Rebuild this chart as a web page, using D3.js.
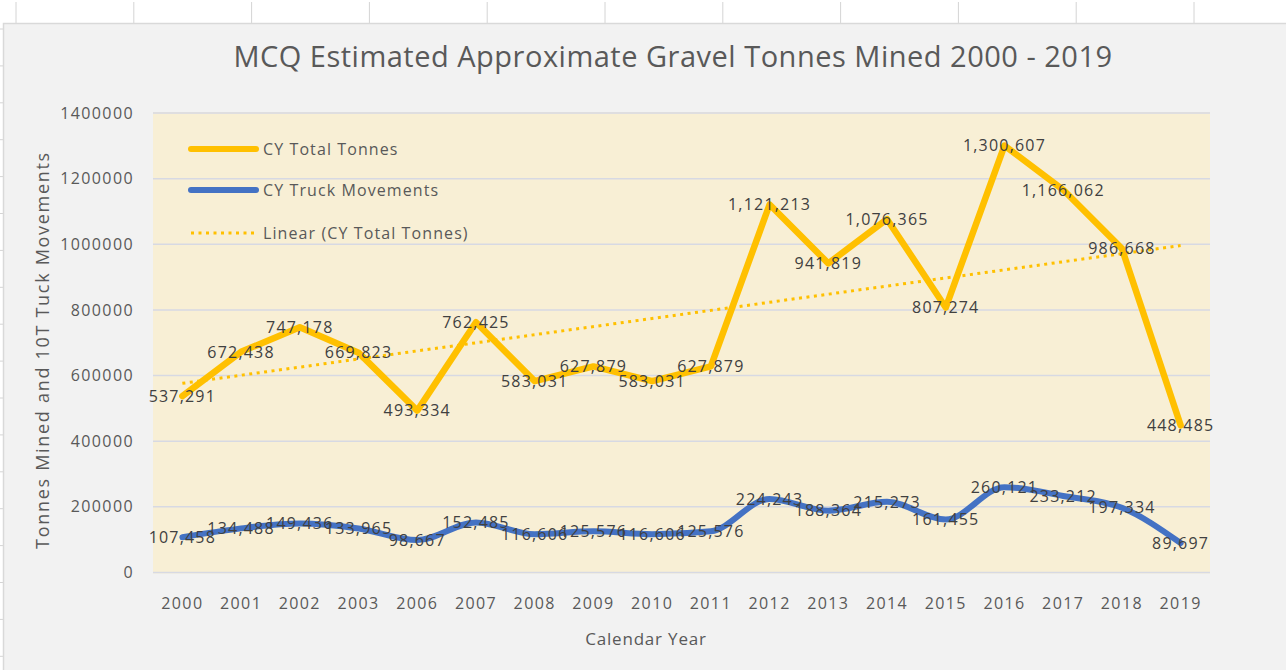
<!DOCTYPE html>
<meta charset="utf-8">
<html>
<head>
<title>MCQ Estimated Approximate Gravel Tonnes Mined 2000 - 2019</title>
<script src="https://d3js.org/d3.v7.min.js"></script>
<style>
body {
  margin: 0;
  background: #fff;
  font-family: "Open Sans", sans-serif;
}
.tick text {
  font-family: "Open Sans", sans-serif;
  font-size: 16px;
  letter-spacing: 1.4px;
  fill: #595959;
}
.label {
  font-size: 16px;
  letter-spacing: 1.2px;
  fill: #404040;
}
.legend text {
  font-size: 16px;
  letter-spacing: 1.1px;
  fill: #595959;
}
</style>
</head>
<body>
<div id="chart"></div>

<script>
// data
var years = ["2000", "2001", "2002", "2003", "2006", "2007", "2008", "2009", "2010",
             "2011", "2012", "2013", "2014", "2015", "2016", "2017", "2018", "2019"];

var totalTonnes = [537291, 672438, 747178, 669823, 493334, 762425, 583031, 627879, 583031,
                   627879, 1121213, 941819, 1076365, 807274, 1300607, 1166062, 986668, 448485];

var truckMovements = [107458, 134488, 149436, 133965, 98667, 152485, 116606, 125576, 116606,
                      125576, 224243, 188364, 215273, 161455, 260121, 233212, 197334, 89697];

var yTicks = [0, 200000, 400000, 600000, 800000, 1000000, 1200000, 1400000];

var seriesNames = ["CY Total Tonnes", "CY Truck Movements", "Linear (CY Total Tonnes)"];

// layout
var width = 1286, height = 670;
var plot = { left: 153, right: 1210, top: 113, bottom: 572.5 };
var gold = "#ffc000", blue = "#4472c4";

var svg = d3.select("#chart")
    .append("svg")
    .attr("width", width)
    .attr("height", height);

// spreadsheet grid peeking out behind the chart object
svg.selectAll(".col")
    .data(d3.range(16, width, 117.8))
    .enter().append("line")
    .attr("x1", function (d) { return d; })
    .attr("x2", function (d) { return d; })
    .attr("y1", 2).attr("y2", 24)
    .attr("stroke", "#d4d4d4");

svg.selectAll(".row")
    .data(d3.range(29, height, 36.9))
    .enter().append("line")
    .attr("x1", 0).attr("x2", 4)
    .attr("y1", function (d) { return d; })
    .attr("y2", function (d) { return d; })
    .attr("stroke", "#d4d4d4");

// chart area
svg.append("rect")
    .attr("x", 3.5).attr("y", 23.5)
    .attr("width", width).attr("height", height)
    .attr("fill", "#f2f2f2")
    .attr("stroke", "#d9d9d9")
    .attr("stroke-width", 1.5);

var x = d3.scaleBand().domain(years).range([plot.left, plot.right]);
var y = d3.scaleLinear().domain([0, 1400000]).range([plot.bottom, plot.top]);
var cx = function (d) { return x(d) + x.bandwidth() / 2; };

// plot area
svg.append("rect")
    .attr("x", plot.left)
    .attr("y", y(1400000) - 1)
    .attr("width", plot.right - plot.left)
    .attr("height", y(0) - y(1400000) + 2)
    .attr("fill", "#f8efd5");

svg.selectAll(".grid")
    .data(yTicks)
    .enter().append("line")
    .attr("x1", plot.left).attr("x2", plot.right)
    .attr("y1", function (d) { return y(d); })
    .attr("y2", function (d) { return y(d); })
    .attr("stroke", "#d7d9e3")
    .attr("stroke-width", 1.5);

// axes
var yAxis = svg.append("g")
    .attr("transform", "translate(" + plot.left + ",0)")
    .call(d3.axisLeft(y).tickValues(yTicks).tickFormat(d3.format("d")).tickSize(0).tickPadding(19));
yAxis.select(".domain").remove();

var xAxis = svg.append("g")
    .attr("transform", "translate(0," + plot.bottom + ")")
    .call(d3.axisBottom(x).tickSize(0).tickPadding(25));
xAxis.select(".domain").remove();

// titles
svg.append("text")
    .attr("x", 673).attr("y", 67)
    .attr("text-anchor", "middle")
    .style("font-size", "29px")
    .style("letter-spacing", "0.5px")
    .style("fill", "#595959")
    .text("MCQ Estimated Approximate Gravel Tonnes Mined 2000 - 2019");

svg.append("text")
    .attr("x", 646).attr("y", 645)
    .attr("text-anchor", "middle")
    .style("font-size", "17px")
    .style("letter-spacing", "0.8px")
    .style("fill", "#595959")
    .text("Calendar Year");

svg.append("text")
    .attr("transform", "translate(49,350) rotate(-90)")
    .attr("text-anchor", "middle")
    .style("font-size", "18px")
    .style("letter-spacing", "1.7px")
    .style("fill", "#595959")
    .text("Tonnes Mined and 10T Tuck Movements");

// linear trend of total tonnes (least squares, like Excel's trendline)
var xs = d3.range(1, years.length + 1);
var mx = d3.mean(xs), my = d3.mean(totalTonnes);
var slope = d3.sum(xs, function (v, i) { return (v - mx) * (totalTonnes[i] - my); }) /
            d3.sum(xs, function (v) { return (v - mx) * (v - mx); });
var intercept = my - slope * mx;

svg.append("line")
    .attr("x1", cx(years[0]))
    .attr("y1", y(intercept + slope * 1))
    .attr("x2", cx(years[years.length - 1]))
    .attr("y2", y(intercept + slope * years.length))
    .attr("stroke", gold)
    .attr("stroke-width", 3)
    .attr("stroke-dasharray", "3 4.5");

// series lines
var tonneLine = d3.line()
    .x(function (d, i) { return cx(years[i]); })
    .y(function (d) { return y(d); });

var truckLine = d3.line()
    .x(function (d, i) { return cx(years[i]); })
    .y(function (d) { return y(d); })
    .curve(d3.curveMonotoneX);

svg.append("path")
    .datum(totalTonnes)
    .attr("d", tonneLine)
    .attr("fill", "none")
    .attr("stroke", gold)
    .attr("stroke-width", 6.5)
    .attr("stroke-linejoin", "round")
    .attr("stroke-linecap", "round");

svg.append("path")
    .datum(truckMovements)
    .attr("d", truckLine)
    .attr("fill", "none")
    .attr("stroke", blue)
    .attr("stroke-width", 6)
    .attr("stroke-linejoin", "round")
    .attr("stroke-linecap", "round");

// data labels, centred on the points
var fmt = d3.format(",");
[totalTonnes, truckMovements].forEach(function (series) {
    svg.append("g").selectAll("text")
        .data(series)
        .enter().append("text")
        .attr("class", "label")
        .attr("x", function (d, i) { return cx(years[i]); })
        .attr("y", function (d) { return y(d); })
        .attr("dy", "0.36em")
        .attr("text-anchor", "middle")
        .text(function (d) { return fmt(d); });
});

// legend
var legend = svg.append("g").attr("class", "legend");
var legendY = [149, 190, 233];
var legendStyle = [
    { color: gold, width: 6, dash: null },
    { color: blue, width: 6, dash: null },
    { color: gold, width: 3, dash: "3 4.5" }
];

seriesNames.forEach(function (name, i) {
    legend.append("line")
        .attr("x1", 191).attr("x2", 256)
        .attr("y1", legendY[i]).attr("y2", legendY[i])
        .attr("stroke", legendStyle[i].color)
        .attr("stroke-width", legendStyle[i].width)
        .attr("stroke-linecap", legendStyle[i].dash ? "butt" : "round")
        .attr("stroke-dasharray", legendStyle[i].dash);
    legend.append("text")
        .attr("x", 263).attr("y", legendY[i])
        .attr("dy", "0.36em")
        .text(name);
});
</script>
</body>
</html>
